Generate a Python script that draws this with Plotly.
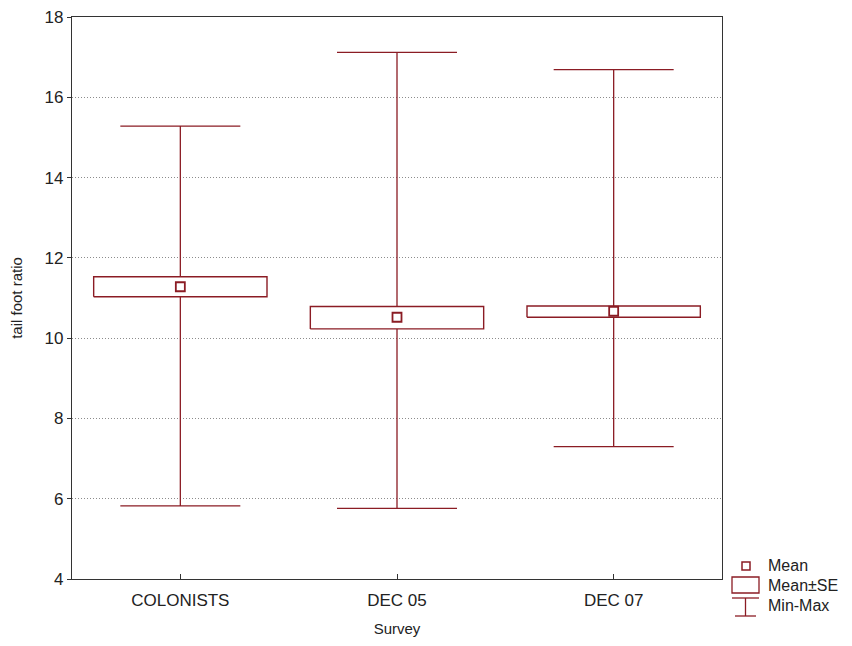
import plotly.graph_objects as go

categories = ["COLONISTS", "DEC 05", "DEC 07"]
means = [11.28, 10.52, 10.67]
se_low = [11.03, 10.23, 10.52]
se_high = [11.53, 10.79, 10.80]
mins = [5.82, 5.76, 7.30]
maxs = [15.28, 17.12, 16.69]
y_ticks = [4, 6, 8, 10, 12, 14, 16, 18]

RED = "#8B1C24"
FONT = "Liberation Sans, Arial, sans-serif"
BOX_HALF = 0.4

OFF = 8  # page body margin
W, H = 844, 638
L, R, T, B = 64, 130, 9, 67
PW, PH = W - L - R, H - T - B

def px(x):
    return (x - OFF - L) / PW

def py(y):
    return (H - B - (y - OFF)) / PH

pos = list(range(len(categories)))

fig = go.Figure()

# Min-Max whiskers (error bars around the mean, mean marker hidden)
fig.add_trace(go.Scatter(
    x=pos, y=means, mode="markers",
    marker=dict(size=1, color="rgba(0,0,0,0)"),
    error_y=dict(type="data", symmetric=False,
                 array=[mx - m for mx, m in zip(maxs, means)],
                 arrayminus=[m - mn for m, mn in zip(means, mins)],
                 color=RED, thickness=1.3, width=60),
    showlegend=False, hoverinfo="skip",
))

# Mean±SE boxes
for i, lo, hi in zip(pos, se_low, se_high):
    fig.add_trace(go.Scatter(
        x=[i - BOX_HALF, i + BOX_HALF, i + BOX_HALF, i - BOX_HALF, i - BOX_HALF],
        y=[lo, lo, hi, hi, lo],
        mode="lines", fill="toself", fillcolor="white",
        line=dict(color=RED, width=1.4),
        showlegend=False, hoverinfo="skip",
    ))

# Means
fig.add_trace(go.Scatter(
    x=pos, y=means, mode="markers",
    marker=dict(symbol="square-open", size=9, color=RED, line=dict(color=RED, width=1.8)),
    showlegend=False, hoverinfo="skip",
))

# Custom legend (paper coordinates)
shapes = [
    dict(type="rect", xref="paper", yref="paper",
         x0=px(742), x1=px(750), y0=py(562), y1=py(570),
         line=dict(color=RED, width=1.5)),
    dict(type="rect", xref="paper", yref="paper",
         x0=px(732), x1=px(759), y0=py(577), y1=py(593),
         line=dict(color=RED, width=1.3)),
    dict(type="line", xref="paper", yref="paper",
         x0=px(732), x1=px(759), y0=py(598), y1=py(598),
         line=dict(color=RED, width=1.3)),
    dict(type="line", xref="paper", yref="paper",
         x0=px(745.5), x1=px(745.5), y0=py(598), y1=py(616),
         line=dict(color=RED, width=1.3)),
    dict(type="line", xref="paper", yref="paper",
         x0=px(735), x1=px(756), y0=py(616), y1=py(616),
         line=dict(color=RED, width=1.3)),
]

annotations = []
for label, yc in [("Mean", 565), ("Mean±SE", 585), ("Min-Max", 605)]:
    annotations.append(dict(text=label, xref="paper", yref="paper",
                            x=px(766), y=py(yc), xanchor="left", yanchor="middle",
                            showarrow=False, font=dict(family=FONT, size=16, color="#222")))

fig.update_layout(
    width=W, height=H,
    margin=dict(l=L, r=R, t=T, b=B),
    paper_bgcolor="white",
    plot_bgcolor="white",
    font=dict(family=FONT, size=16, color="#222"),
    shapes=shapes,
    annotations=annotations,
    showlegend=False,
)

fig.update_xaxes(
    range=[-0.5, len(categories) - 0.5],
    tickvals=pos, ticktext=categories,
    automargin=False,
    ticklabelstandoff=5,
    showline=True, linecolor="#333", linewidth=1.3, mirror=True,
    ticks="inside", ticklen=5, tickcolor="#333",
    showgrid=False, zeroline=False,
    title=dict(text="Survey", font=dict(size=15), standoff=14),
    tickfont=dict(size=17),
)

fig.update_yaxes(
    range=[4, 18],
    tickvals=y_ticks,
    automargin=False,
    ticklabeloverflow="allow",
    showline=True, linecolor="#333", linewidth=1.3, mirror=True,
    ticks="outside", ticklen=4, tickcolor="#333",
    showgrid=True, gridcolor="#8c8c8c", griddash="1px,2px", gridwidth=1,
    zeroline=False,
    title=dict(text="tail foot ratio", font=dict(size=15), standoff=18),
    tickfont=dict(size=17),
)

fig.write_html("out.html")
